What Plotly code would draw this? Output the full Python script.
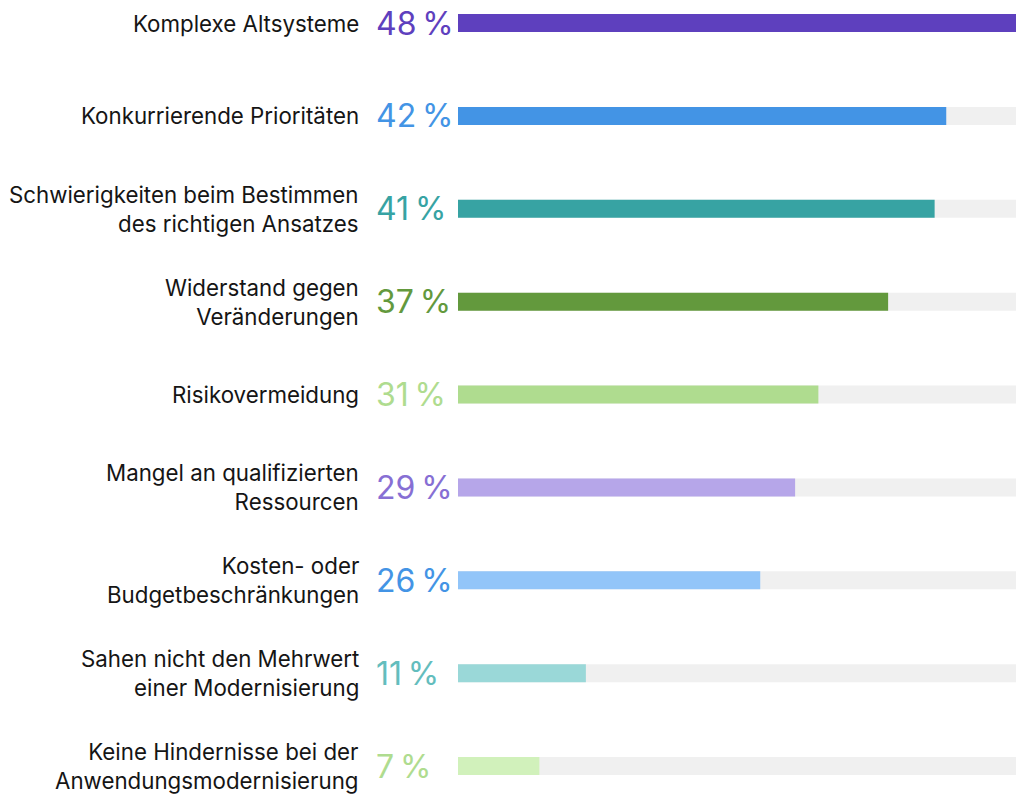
import plotly.graph_objects as go

categories = [
    "Komplexe Altsysteme",
    "Konkurrierende Prioritäten",
    "Schwierigkeiten beim Bestimmen<br>des richtigen Ansatzes",
    "Widerstand gegen<br>Veränderungen",
    "Risikovermeidung",
    "Mangel an qualifizierten<br>Ressourcen",
    "Kosten- oder<br>Budgetbeschränkungen",
    "Sahen nicht den Mehrwert<br>einer Modernisierung",
    "Keine Hindernisse bei der<br>Anwendungsmodernisierung",
]
values = [48, 42, 41, 37, 31, 29, 26, 11, 7]
bar_colors = ["#5e40be", "#4394e5", "#37a3a3", "#63993d", "#afdc8f",
              "#b6a6e9", "#92c5f9", "#9ad8d8", "#d1f1bb"]
label_colors = ["#5e40be", "#4394e5", "#37a3a3", "#63993d", "#afdc8f",
                "#876fd4", "#4394e5", "#63bdbd", "#afdc8f"]
track_max = 48
track_color = "#f0f0f0"

pos = list(range(len(categories)))
W = 0.194

fig = go.Figure()
fig.add_trace(go.Bar(
    x=[track_max] * len(pos), y=pos, orientation="h",
    marker=dict(color=track_color, line=dict(width=0)),
    width=W, hoverinfo="skip", showlegend=False,
))
fig.add_trace(go.Bar(
    x=values, y=pos, orientation="h",
    marker=dict(color=bar_colors, line=dict(width=0)),
    width=W, showlegend=False,
))

font = "Inter, 'Open Sans', sans-serif"
for i, (cat, v) in enumerate(zip(categories, values)):
    fig.add_annotation(
        x=0, y=i, xref="x", yref="y", text=cat, showarrow=False,
        xanchor="right", yanchor="middle", align="right", xshift=-97,
        font=dict(family=font, size=22.3, color="#151515"),
    )
    fig.add_annotation(
        x=0, y=i, xref="x", yref="y", text=f"{v}\u202f%", showarrow=False,
        xanchor="left", yanchor="middle", align="left", xshift=-84,
        font=dict(family=font, size=32, color=label_colors[i]),
    )

fig.update_layout(
    width=1019, height=799,
    margin=dict(l=458, r=3, t=0, b=0),
    paper_bgcolor="white", plot_bgcolor="white",
    barmode="overlay",
    xaxis=dict(range=[0, track_max], visible=False, fixedrange=True),
    yaxis=dict(range=[8.355, -0.248], visible=False, fixedrange=True),
)

fig.write_html(
    "out.html",
    config={"displayModeBar": False},
    post_script="document.body.style.margin='0';document.body.style.overflow='hidden';",
)
